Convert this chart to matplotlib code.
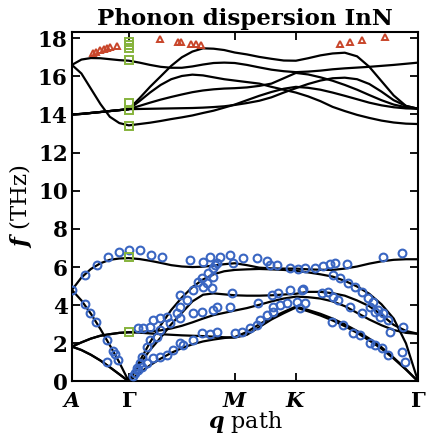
import numpy as np
import matplotlib
matplotlib.use("Agg")
import matplotlib.pyplot as plt

plt.rcParams['mathtext.fontset'] = 'custom'
plt.rcParams['mathtext.it'] = 'DejaVu Serif:italic:bold'
plt.rcParams['mathtext.rm'] = 'DejaVu Serif:bold'
plt.rcParams['mathtext.bf'] = 'DejaVu Serif:bold'
plt.rcParams['font.family'] = ['DejaVu Serif']
plt.rcParams['font.weight'] = 'bold'

# high-symmetry points along the path (1/Angstrom)
q_ticks = [0.0, 0.551, 1.576, 2.168, 3.351]
q_labels = [r'$A$', r'$\Gamma$', r'$M$', r'$K$', r'$\Gamma$']

# sampling of the computed branches along A-G-M-K-G
q_grid = [0.0, 0.092, 0.184, 0.276, 0.367, 0.459, 0.551,
          0.654, 0.756, 0.859, 0.961, 1.064, 1.166, 1.269, 1.371, 1.474, 1.576,
          1.694, 1.813, 1.931, 2.050, 2.168,
          2.286, 2.405, 2.523, 2.641, 2.760, 2.878, 2.996, 3.114, 3.233, 3.351]

# optical branches (THz)
opt_1 = [16.6, 16.88, 16.96, 16.95, 16.9, 16.85, 16.82,
         16.72, 16.6, 16.5, 16.45, 16.45, 16.52, 16.62, 16.7, 16.72, 16.7,
         16.6, 16.47, 16.35, 16.27, 16.22,
         16.25, 16.3, 16.37, 16.42, 16.46, 16.5, 16.55, 16.6, 16.66, 16.72]
opt_2 = [14.0, 14.03, 14.08, 14.13, 14.18, 14.23, 14.28,
         14.85, 15.45, 16.0, 16.55, 17.0, 17.3, 17.47, 17.45, 17.38, 17.25,
         17.15, 17.02, 16.92, 16.83, 16.82,
         16.95, 17.1, 17.2, 17.24, 17.05, 16.5, 15.75, 15.0, 14.45, 14.3]
opt_3 = [14.0, 14.03, 14.08, 14.13, 14.18, 14.23, 14.28,
         14.7, 15.15, 15.55, 15.85, 16.02, 16.09, 16.05, 15.95, 15.85, 15.78,
         15.7, 15.62, 15.45, 15.3, 15.15,
         14.95, 14.7, 14.4, 14.18, 13.98, 13.82, 13.68, 13.58, 13.52, 13.5]
opt_4 = [14.0, 14.03, 14.08, 14.13, 14.18, 14.23, 14.28,
         14.45, 14.62, 14.78, 14.92, 15.05, 15.17, 15.26, 15.32, 15.36, 15.38,
         15.42, 15.5, 15.62, 15.9, 16.18,
         16.1, 15.95, 15.77, 15.55, 15.3, 15.02, 14.75, 14.52, 14.38, 14.3]
opt_5 = [14.0, 14.03, 14.08, 14.13, 14.18, 14.23, 14.28,
         14.29, 14.3, 14.31, 14.32, 14.33, 14.34, 14.36, 14.39, 14.43, 14.5,
         14.6, 14.72, 14.9, 15.15, 15.38,
         15.6, 15.78, 15.9, 15.93, 15.85, 15.6, 15.2, 14.75, 14.45, 14.3]
opt_6 = [16.6, 16.15, 15.35, 14.55, 13.88, 13.55, 13.43,
         13.5, 13.57, 13.66, 13.76, 13.85, 13.95, 14.08, 14.2, 14.36, 14.52,
         14.75, 14.98, 15.18, 15.35, 15.45,
         15.4, 15.3, 15.15, 14.98, 14.8, 14.62, 14.48, 14.38, 14.32, 14.3]

# low-frequency branches (THz)
low_1 = [4.8, 5.45, 5.9, 6.2, 6.38, 6.45, 6.47,
         6.42, 6.33, 6.22, 6.1, 6.03, 6.0, 6.02, 6.08, 6.15, 6.2,
         6.1, 5.97, 5.93, 5.92, 5.92,
         5.88, 5.86, 5.85, 5.92, 6.03, 6.18, 6.3, 6.38, 6.41, 6.41]
low_2 = [4.8, 4.25, 3.55, 2.75, 1.9, 1.0, 0.0,
         1.05, 2.05, 2.95, 3.75, 4.4, 4.95, 5.35, 5.62, 5.78, 5.85,
         5.88, 5.9, 5.88, 5.85, 5.8,
         5.72, 5.62, 5.5, 5.28, 4.98, 4.6, 4.05, 3.3, 2.0, 0.0]
low_3 = [1.83, 1.65, 1.4, 1.1, 0.75, 0.38, 0.0,
         0.9, 1.65, 2.3, 3.0, 3.6, 4.2, 4.55, 4.62, 4.57, 4.52,
         4.5, 4.5, 4.52, 4.56, 4.6,
         4.7, 4.7, 4.63, 4.5, 4.25, 3.95, 3.5, 2.97, 2.65, 2.5]
low_4 = [1.83, 2.05, 2.25, 2.4, 2.48, 2.55, 2.58,
         2.6, 2.63, 2.68, 2.78, 2.92, 3.1, 3.3, 3.48, 3.6, 3.72,
         3.85, 4.02, 4.2, 4.35, 4.45,
         4.42, 4.35, 4.2, 3.95, 3.6, 3.25, 2.95, 2.7, 2.55, 2.5]
low_5 = [1.83, 1.65, 1.4, 1.1, 0.75, 0.38, 0.0,
         0.45, 0.85, 1.2, 1.5, 1.75, 1.95, 2.1, 2.2, 2.28, 2.33,
         2.6, 3.0, 3.35, 3.65, 3.93,
         3.75, 3.55, 3.3, 3.0, 2.65, 2.25, 1.8, 1.25, 0.65, 0.0]
low_6 = [1.83, 2.05, 2.25, 2.4, 2.48, 2.55, 2.58,
         2.56, 2.52, 2.48, 2.45, 2.42, 2.4, 2.38, 2.35, 2.32, 2.3,
         2.45, 2.85, 3.25, 3.58, 3.88,
         3.68, 3.46, 3.2, 2.9, 2.55, 2.15, 1.72, 1.2, 0.62, 0.0]

branches = [opt_1, opt_2, opt_3, opt_4, opt_5, opt_6,
            low_1, low_2, low_3, low_4, low_5, low_6]

# measured modes (circles), path coordinate and frequency
meas_q = [0.000, 0.126, 0.239, 0.352, 0.458, 0.555, 0.659, 0.762, 0.869,
          0.126, 0.174, 0.232, 0.336, 0.394, 0.416, 0.448, 0.336,
          1.143, 1.272, 1.337, 1.433, 1.530, 1.659, 1.789, 1.886, 1.983,
          2.111, 2.192, 2.257, 1.369, 1.385, 1.562, 1.918,
          0.591, 0.610, 0.627, 0.659, 0.675, 0.723, 0.755, 0.820, 0.852,
          0.949, 1.014, 1.046, 1.111, 1.175, 1.223, 1.256, 1.305, 1.320,
          1.369, 1.401,
          1.046, 1.272, 1.353, 1.547, 1.934, 1.998, 2.111, 2.240,
          0.642, 0.691, 0.755, 0.787, 0.852, 0.917, 1.046, 1.175, 1.256,
          1.369, 1.401, 1.530, 1.804, 1.950, 2.015, 2.079, 2.176, 2.257,
          0.642, 0.675, 0.723, 0.787, 0.852, 0.917, 0.981, 1.078, 1.175,
          1.046, 1.256, 1.337, 1.401, 1.579, 1.644, 1.724, 1.789, 1.821,
          1.886, 1.950,
          3.015, 3.193, 2.353, 2.434, 2.499, 2.547, 2.661,
          2.531, 2.596, 2.676, 2.741, 2.806, 2.870, 2.918, 2.967, 3.015,
          3.063, 3.209,
          2.225, 2.418, 2.482, 2.531, 2.579, 2.692, 2.806, 2.886, 2.935,
          2.983, 3.080,
          2.208, 2.515, 2.628, 2.724, 2.789, 2.886, 2.935, 2.999, 3.063,
          3.193, 3.225]
meas_f = [4.80, 5.59, 6.12, 6.55, 6.81, 6.90, 6.90, 6.64, 6.55,
          4.07, 3.58, 3.11, 2.18, 1.60, 1.43, 1.13, 1.04,
          6.38, 6.29, 6.55, 6.55, 6.64, 6.47, 6.47, 6.33, 6.12,
          5.97, 5.90, 5.94, 5.94, 6.12, 6.20, 6.12,
          0.30, 0.45, 0.69, 0.96, 1.30, 1.83, 2.18, 2.35, 2.70,
          3.05, 3.58, 3.93, 4.28, 4.80, 5.24, 5.42, 5.15, 5.68,
          5.50, 6.20,
          4.54, 4.98, 4.89, 4.63, 4.54, 4.63, 4.80, 4.86,
          2.79, 2.79, 2.88, 3.23, 3.32, 3.40, 3.32, 3.58, 3.63,
          3.75, 3.93, 3.93, 4.10, 3.93, 4.02, 4.10, 4.19, 4.10,
          0.60, 0.78, 0.96, 1.22, 1.30, 1.39, 1.65, 1.92, 2.18,
          2.00, 2.53, 2.48, 2.58, 2.53, 2.58, 2.79, 2.97, 3.23,
          3.49, 3.63,
          6.55, 6.73, 5.94, 6.03, 6.15, 6.20, 6.15,
          5.59, 5.42, 5.15, 4.98, 4.71, 4.37, 4.19, 3.75, 3.58,
          3.23, 2.88,
          4.80, 4.63, 4.71, 4.45, 4.28, 3.93, 3.58, 3.93, 3.66,
          3.40, 2.61,
          3.84, 3.14, 2.97, 2.53, 2.44, 2.00, 1.92, 1.74, 1.39,
          1.56, 1.04]

# high-frequency measured modes (triangles)
tri_q = [0.203, 0.237, 0.271, 0.310, 0.339, 0.368, 0.436, 0.852, 1.027,
         1.056, 1.153, 1.201, 1.249, 2.596, 2.693, 2.809, 3.031]
tri_f = [17.22, 17.30, 17.38, 17.45, 17.50, 17.54, 17.60, 17.95, 17.80,
         17.82, 17.72, 17.68, 17.62, 17.68, 17.78, 17.88, 18.05]

# zone-centre modes (squares)
sq_f = [17.82, 17.66, 17.50, 16.88, 14.60, 14.25, 13.38, 6.55, 2.60]

fig = plt.figure(figsize=(4.28, 4.38), dpi=100)
ax = fig.add_axes([0.168, 0.129, 0.809, 0.799])

for b in branches:
    ax.plot(q_grid, b, color='black', lw=1.6, zorder=2)

ax.plot(meas_q, meas_f, 'o', ms=5.6, mfc='none', mec='#3a66c2', mew=1.5, zorder=3)
ax.plot(tri_q, tri_f, '^', ms=5.0, mfc='none', mec='#c8452a', mew=1.4, zorder=3)
ax.plot([q_ticks[1]] * len(sq_f), sq_f, 's', ms=5.2, mfc='none', mec='#86b33c',
        mew=1.4, zorder=4)

ax.set_xlim(q_ticks[0], q_ticks[-1])
ax.set_ylim(0, 18.35)
ax.set_xticks(q_ticks)
ax.set_xticklabels(q_labels, fontsize=15)
ax.set_yticks(np.arange(0, 19, 2))
ax.set_yticklabels([str(v) for v in range(0, 19, 2)], fontsize=15.5)
ax.tick_params(direction='in', top=True, right=True, length=6, width=1.3, pad=3)
ax.tick_params(axis='x', pad=6.5)
for s in ax.spines.values():
    s.set_linewidth(1.5)

ax.set_xlabel(r'$q$ path', fontsize=16, labelpad=-1)
ax.set_ylabel(r'$f$ (THz)', fontsize=16.5, labelpad=3)
ax.set_title('Phonon dispersion InN', fontsize=16.5, fontweight='bold', pad=5)

fig.savefig('out.png', dpi=100)
